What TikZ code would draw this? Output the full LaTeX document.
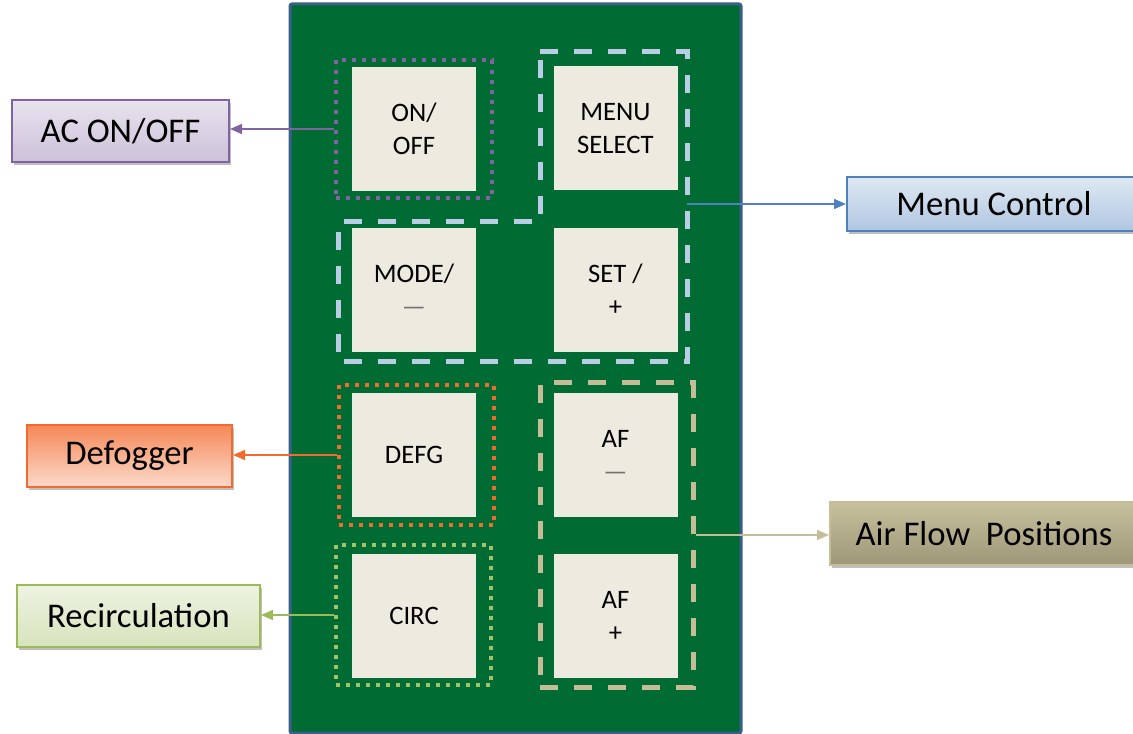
\documentclass[tikz,border=0pt]{standalone}
\usepackage{fontspec}
\setmainfont{Carlito}
\usetikzlibrary{arrows.meta,positioning,shadows}
\definecolor{pcbgreen}{HTML}{006B33}
\definecolor{pcbrim}{HTML}{3A5F8B}
\definecolor{keyfill}{HTML}{EDEBE0}
\definecolor{acpurple}{HTML}{8064A2}
\definecolor{menublue}{HTML}{4F81BD}
\definecolor{menudash}{HTML}{B9CDE5}
\definecolor{defgorange}{HTML}{F26A2E}
\definecolor{recgreen}{HTML}{9BBB59}
\definecolor{aftan}{HTML}{C4BD97}
\tikzset{
  panel/.style={draw=pcbrim,fill=pcbgreen,line width=2.25pt,rounded corners=1.5pt},
  key/.style={fill=keyfill,minimum width=93pt,minimum height=93pt,align=center,
              inner sep=0pt,font=\fontsize{20}{24.75}\selectfont},        % Taste
  dotframe/.style={line width=3pt,dash pattern=on 3pt off 4.5pt},        % gepunkteter Rahmen
  dashframe/.style={line width=3.75pt,dash pattern=on 13.5pt off 12pt},  % gestrichelter Rahmen
  tag/.style={line width=1.5pt,align=center,inner sep=0pt,minimum height=46.5pt,
              font=\fontsize{26}{30}\selectfont,
              drop shadow={shadow xshift=1.5pt,shadow yshift=-2pt,opacity=0.25,fill=black}},
  lnk/.style={-{Triangle[length=9pt,width=7.5pt]},line width=1.2pt}
}
\newcommand{\dsh}{{\color{black!55}—}}

\begin{document}
\begin{tikzpicture}[x=0.75pt,y=-0.75pt]
  \useasboundingbox (0,0) rectangle (1133,734);
  % Bedienfeld
  \node[panel,minimum width=338.25pt,minimum height=546.75pt] (pcb) at (515.5,368.5) {};

  % Tasten
  \node[key] (onoff) at (414,129) {ON/\\OFF};
  \node[key] (menusel) at (615.5,128.5) {MENU\\SELECT};
  \node[key] (mode) at (414,290) {MODE/\\\dsh};
  \node[key] (set) at (615.5,290) {SET /\\+};
  \node[key] (defg) at (414,455) {DEFG};
  \node[key] (afminus) at (615.5,455) {AF\\\dsh};
  \node[key] (circ) at (414,616) {CIRC};
  \node[key] (afplus) at (615.5,616) {AF\\+};

  % Gruppenrahmen
  \node[dotframe,draw=acpurple,minimum width=117pt,minimum height=103.5pt] (onframe) at (414,129) {};
  \node[dotframe,draw=defgorange,minimum width=116.25pt,minimum height=105pt] (defgframe) at (416.5,455) {};
  \node[dotframe,draw=recgreen!90!white,minimum width=116.25pt,minimum height=105pt] (circframe) at (413.5,615) {};
  \node[dashframe,draw=aftan,minimum width=114.75pt,minimum height=228pt] (afframe) at (616.5,535) {};
  \draw[dashframe,draw=menudash] (540,52) -- (687,52) -- (687,362) -- (338,362)
    -- (338,222) -- (540,222) -- cycle;
  \coordinate (menuport) at (687,204);

  % Beschriftungen
  \node[tag,draw=acpurple,top color=acpurple!18,bottom color=acpurple!40,
        minimum width=162.75pt] (aclbl) at (120.5,131) {AC ON/OFF};
  \node[tag,draw=menublue,top color=menublue!18,bottom color=menublue!45,
        minimum width=220.5pt,minimum height=40.5pt] (menulbl) at (994,204) {Menu Control};
  \node[tag,draw=defgorange,top color=defgorange!80,bottom color=defgorange!25,
        minimum width=153.75pt] (defglbl) at (129.5,456) {Defogger};
  \node[tag,draw=recgreen,top color=recgreen!18,bottom color=recgreen!40,
        minimum width=182.25pt] (reclbl) at (138.5,616) {Recirculation};
  \node[tag,draw=aftan,top color=aftan!95,bottom color=aftan!80!black,
        minimum width=231pt,minimum height=47.25pt] (aflbl) at (984,533.5) {Air Flow\ \ Positions};

  % Verbindungen
  \draw[lnk,draw=acpurple] (onframe.west) -- (aclbl.east |- onframe.west);
  \draw[lnk,draw=menublue] (menuport) -- (menulbl.west |- menuport);
  \draw[lnk,draw=defgorange] (defgframe.west) -- (defglbl.east |- defgframe.west);
  \draw[lnk,draw=recgreen] (circframe.west) -- (reclbl.east |- circframe.west);
  \draw[lnk,draw=aftan] (afframe.east) -- (aflbl.west |- afframe.east);
\end{tikzpicture}
\end{document}
